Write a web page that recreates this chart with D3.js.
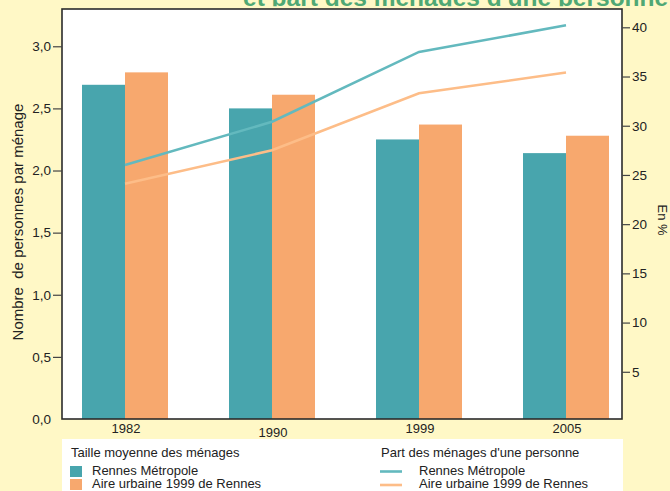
<!DOCTYPE html>
<html>
<head>
<meta charset="utf-8">
<script src="https://cdn.jsdelivr.net/npm/d3@7"></script>
<style>
  html, body { margin: 0; padding: 0; background: #fff8c6; }
  svg { display: block; }
  text { font-family: "Liberation Sans", Arial, sans-serif; }
</style>
</head>
<body>
<svg id="chart" width="670" height="491"></svg>
<script>
// ---- Data ----
const years = ["1982", "1990", "1999", "2005"];
const tailleRennesMetropole = [2.69, 2.50, 2.25, 2.14];
const tailleAireUrbaine = [2.79, 2.61, 2.37, 2.28];
const partRennesMetropole = [26.0, 30.4, 37.5, 40.2];
const partAireUrbaine = [24.1, 27.5, 33.3, 35.4];
const leftTicks = [0, 0.5, 1.0, 1.5, 2.0, 2.5, 3.0];
const rightTicks = [5, 10, 15, 20, 25, 30, 35, 40];
const seriesNames = ["Rennes Métropole", "Aire urbaine 1999 de Rennes"];

// ---- Styles ----
const colTealBar = "#48a5ad";
const colOrangeBar = "#f7a86e";
const colTealLine = "#63b9be";
const colOrangeLine = "#fdbd88";
const colTitle = "#4fa874";

const svg = d3.select("#chart");

// frame geometry
const fx0 = 62, fx1 = 622, fy0 = 9, fy1 = 419;

// Title (partially visible, clipped at top)
svg.append("defs").append("clipPath").attr("id", "titleClip")
  .append("rect").attr("x", 0).attr("y", 0).attr("width", 670).attr("height", 6.3);
svg.append("text")
  .attr("clip-path", "url(#titleClip)")
  .attr("x", 243).attr("y", 6)
  .attr("fill", colTitle)
  .attr("font-weight", "bold")
  .attr("font-size", 24.5)
  .text("et part des ménages d'une personne");

// plot background
svg.append("rect").attr("x", fx0).attr("y", fy0).attr("width", fx1 - fx0).attr("height", fy1 - fy0).attr("fill", "#ffffff");

// scales
const x = d3.scalePoint().domain(years).range([125, 566]);
const yL = d3.scaleLinear().domain([0, 3.3]).range([fy1, fy0]);
const yR = d3.scaleLinear().domain([0, 41.86]).range([421, fy0]);
const barW = 43;

// bars
svg.append("g").selectAll("rect").data(years).join("rect")
  .attr("x", d => x(d) - barW)
  .attr("y", (d, i) => yL(tailleRennesMetropole[i]))
  .attr("width", barW)
  .attr("height", (d, i) => fy1 - yL(tailleRennesMetropole[i]))
  .attr("fill", colTealBar);
svg.append("g").selectAll("rect").data(years).join("rect")
  .attr("x", d => x(d))
  .attr("y", (d, i) => yL(tailleAireUrbaine[i]))
  .attr("width", barW)
  .attr("height", (d, i) => fy1 - yL(tailleAireUrbaine[i]))
  .attr("fill", colOrangeBar);

// lines
const line = d3.line().x(d => x(d[0])).y(d => yR(d[1]));
svg.append("path")
  .datum(years.map((d, i) => [d, partAireUrbaine[i]]))
  .attr("d", line).attr("fill", "none")
  .attr("stroke", colOrangeLine).attr("stroke-width", 2.6);
svg.append("path")
  .datum(years.map((d, i) => [d, partRennesMetropole[i]]))
  .attr("d", line).attr("fill", "none")
  .attr("stroke", colTealLine).attr("stroke-width", 2.6);

// frame
svg.append("rect").attr("x", fx0).attr("y", fy0).attr("width", fx1 - fx0).attr("height", fy1 - fy0)
  .attr("fill", "none").attr("stroke", "#2b2b2b").attr("stroke-width", 1.6);

// left axis
const fmt = d3.format(".1f");
const leftAxis = d3.axisLeft(yL).tickValues(leftTicks).tickSize(9).tickPadding(2)
  .tickFormat(d => fmt(d).replace(".", ","));
const gL = svg.append("g").attr("transform", `translate(${fx0},0)`).call(leftAxis);
gL.select(".domain").remove();
gL.selectAll(".tick line").attr("stroke", "#444").attr("stroke-width", 1.2)
  .attr("display", d => d === 0 ? "none" : null);
gL.selectAll(".tick text").attr("font-size", 13.5).attr("fill", "#222")
  .attr("font-family", "Liberation Sans, Arial, sans-serif");

// right axis
const rightAxis = d3.axisRight(yR).tickValues(rightTicks).tickSize(8).tickPadding(2);
const gR = svg.append("g").attr("transform", `translate(${fx1},0)`).call(rightAxis);
gR.select(".domain").remove();
gR.selectAll(".tick line").attr("stroke", "#444").attr("stroke-width", 1.2);
gR.selectAll(".tick text").attr("font-size", 13.5).attr("fill", "#222")
  .attr("font-family", "Liberation Sans, Arial, sans-serif");

// x labels
svg.append("g").selectAll("text").data(years).join("text")
  .attr("x", d => x(d) + 1)
  .attr("y", d => d === "1990" ? 437 : 433)
  .attr("text-anchor", "middle")
  .attr("font-size", 13)
  .attr("fill", "#222")
  .text(d => d);

// axis titles
svg.append("text")
  .attr("transform", "translate(23,222) rotate(-90)")
  .attr("text-anchor", "middle")
  .attr("font-size", 15)
  .attr("fill", "#222")
  .attr("xml:space", "preserve")
  .text("Nombre  de personnes par ménage");
svg.append("text")
  .attr("transform", "translate(658,220) rotate(90)")
  .attr("text-anchor", "middle")
  .attr("font-size", 13)
  .attr("fill", "#222")
  .text("En %");

// legend box
svg.append("rect").attr("x", 62).attr("y", 439).attr("width", 561).attr("height", 52).attr("fill", "#ffffff");

const lg = svg.append("g");
lg.append("text").attr("x", 71).attr("y", 457).attr("font-size", 13).attr("fill", "#222")
  .text("Taille moyenne des ménages");
const barCols = [colTealBar, colOrangeBar];
lg.selectAll(".sw").data(seriesNames).join("rect").attr("class", "sw")
  .attr("x", 70).attr("y", (d, i) => 466 + i * 13).attr("width", 12).attr("height", 11)
  .attr("fill", (d, i) => barCols[i]);
lg.selectAll(".st").data(seriesNames).join("text").attr("class", "st")
  .attr("x", 92).attr("y", (d, i) => 475 + i * 13).attr("font-size", 13).attr("fill", "#222")
  .text(d => d);

lg.append("text").attr("x", 381).attr("y", 457).attr("font-size", 13).attr("fill", "#222")
  .text("Part des ménages d'une personne");
const lineCols = [colTealLine, colOrangeLine];
lg.selectAll(".ln").data(seriesNames).join("line").attr("class", "ln")
  .attr("x1", 380).attr("x2", 402)
  .attr("y1", (d, i) => 471.5 + i * 13.5).attr("y2", (d, i) => 471.5 + i * 13.5)
  .attr("stroke", (d, i) => lineCols[i]).attr("stroke-width", 2.6);
lg.selectAll(".lt").data(seriesNames).join("text").attr("class", "lt")
  .attr("x", 419).attr("y", (d, i) => 475 + i * 13).attr("font-size", 13).attr("fill", "#222")
  .text(d => d);
</script>
</body>
</html>
